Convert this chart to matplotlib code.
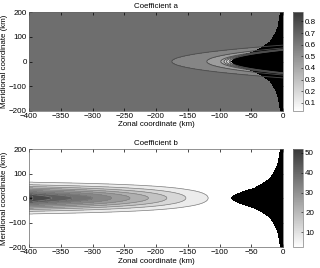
import numpy as np
import matplotlib
matplotlib.use("Agg")
import matplotlib.pyplot as plt
from matplotlib.colors import LinearSegmentedColormap, Normalize
from matplotlib.cm import ScalarMappable

plt.rcParams["font.family"] = ["Liberation Sans", "DejaVu Sans"]

# values (km)
edge_y = [0, 10, 26, 40, 60, 80, 114, 140, 169, 200]   # black region edge, |y|
edge_x = [-81, -77, -63, -45, -31, -20, -12, -8, -6, -4]

# coefficient a: contour levels and their tip positions on y=0
a_background = 0.65
a_levels = [0.05, 0.1, 0.2, 0.3, 0.4, 0.5, 0.6]
a_tip_x = [-83, -85, -89, -93, -98, -120, -175]
a_curv = 0.04          # contours open to the right like x = tip + curv*y^2

# coefficient b: contour levels and their tip positions on y=0
b_levels = [5, 10, 15, 20, 25, 30, 35, 40, 45, 50]
b_tip_x = [-118, -153, -183, -212, -241, -270, -300, -331, -364, -394]
b_width = 42.5

cmap = LinearSegmentedColormap.from_list("wg", [(1, 1, 1), (0.22, 0.22, 0.22)])
fs_tick = 5.8
fs_lab = 5.7

x = np.linspace(-400, 0, 801)
y = np.linspace(-200, 200, 801)
X, Y = np.meshgrid(x, y)
edge = np.interp(np.abs(Y), edge_y, edge_x)
black = X - edge

# field a: interpolate levels through the tips along parabolic coordinate
s = X - a_curv * Y ** 2
sx = [-400] + a_tip_x[::-1] + [-80]
sv = [a_background] + a_levels[::-1] + [0.0]
A = np.interp(s, sx, sv)

# field b (along y=0 interpolated through tip positions)
bx = np.array(b_tip_x[::-1] + [-80])
bv = np.array(b_levels[::-1] + [0.0])
b0 = np.interp(X, bx, bv, left=52, right=0)
B = b0 * np.exp(-(Y / b_width) ** 2)

fig = plt.figure(figsize=(3.2, 2.68), dpi=100)


def setup(ax, title):
    ax.set_xlim(-400, 0)
    ax.set_ylim(-200, 200)
    ax.set_xticks(range(-400, 1, 50))
    ax.set_yticks([-200, -100, 0, 100, 200])
    ax.tick_params(direction="in", top=True, right=True, labelsize=fs_tick,
                   length=2, width=0.5, pad=1.5)
    ax.set_title(title, fontsize=fs_lab, pad=3)
    ax.set_xlabel("Zonal coordinate (km)", fontsize=fs_lab, labelpad=1)
    ax.set_ylabel("Meridional coordinate (km)", fontsize=fs_lab, labelpad=1)
    for s_ in ax.spines.values():
        s_.set_linewidth(0.5)
        s_.set_color("0.4")


def colorbar(rect, norm, ticks):
    cax = fig.add_axes(rect)
    cb = fig.colorbar(ScalarMappable(norm=norm, cmap=cmap), cax=cax, ticks=ticks)
    cb.outline.set_linewidth(0.5)
    cb.outline.set_edgecolor("0.5")
    cax.tick_params(labelsize=fs_tick, length=1.5, width=0.4, direction="in", pad=1.5)


# top panel
ax1 = fig.add_axes([0.0906, 0.586, 0.794, 0.369])
norm_a = Normalize(0.03, 0.88)
lev_a = [-1.0] + a_levels + [0.7]
ax1.contourf(X, Y, A, levels=lev_a, cmap=cmap, norm=norm_a)
ax1.contour(X, Y, A, levels=a_levels, colors="0.3", linewidths=0.6)
ax1.contourf(X, Y, black, levels=[0, 1000], colors="k")
setup(ax1, "Coefficient a")
colorbar([0.916, 0.586, 0.031, 0.369], norm_a, [0.1, 0.2, 0.3, 0.4, 0.5, 0.6, 0.7, 0.8])

# bottom panel
ax2 = fig.add_axes([0.0906, 0.078, 0.794, 0.366])
norm_b = Normalize(2.5, 52)
lev_b = [0] + b_levels + [60]
ax2.contourf(X, Y, B, levels=lev_b, cmap=cmap, norm=norm_b)
ax2.contour(X, Y, B, levels=b_levels, colors="0.5", linewidths=0.5)
ax2.contourf(X, Y, black, levels=[0, 1000], colors="k")
setup(ax2, "Coefficient b")
colorbar([0.916, 0.078, 0.031, 0.366], norm_b, [10, 20, 30, 40, 50])

fig.savefig("out.png", dpi=100)
